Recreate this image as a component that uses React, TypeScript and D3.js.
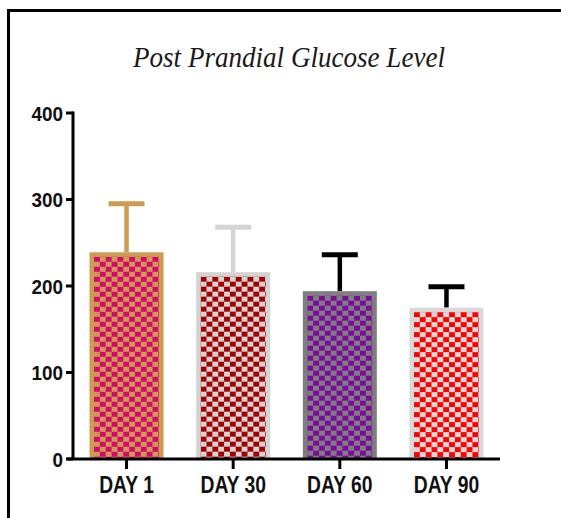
import React from 'react';
import * as d3 from 'd3';

// values
const days = ['DAY 1', 'DAY 30', 'DAY 60', 'DAY 90'];
const means = [239, 216, 194, 175];
const sds = [56, 52, 42, 24];
const yTicks = [0, 100, 200, 300, 400];

const frameColors = ['#CE9B52', '#D4D4D4', '#7F7F7F', '#D9D9D9'];
const checkColors = ['#D5086E', '#A30000', '#7D0A9E', '#FF0000'];
const errColors = ['#CE9B52', '#D4D4D4', '#000000', '#000000'];

const W = 561;
const H = 518;
const sansFont = '"Liberation Sans", Arial, sans-serif';

export default function App() {
  const x = d3.scaleBand<string>()
    .domain(days)
    .range([73, 500])
    .paddingInner(0.306)
    .paddingOuter(0.155);
  const y = d3.scaleLinear().domain([0, 400]).range([459, 113]);

  const bw = x.bandwidth();
  const inset = 4.5;
  const cellW = 5.85;
  const cellH = 5;

  return (
    <svg width={W} height={H} style={{ position: 'absolute', left: 0, top: 0 }}>
      <rect width={W} height={H} fill="#fff" />
      <defs>
        {days.map((d, i) => {
          const bx = x(d)! + inset;
          const by = y(means[i]) + inset;
          return (
            <pattern key={d} id={'chk' + i} patternUnits="userSpaceOnUse"
              width={cellW * 2} height={cellH * 2}
              patternTransform={`translate(${bx},${by})`}>
              <rect width={cellW * 2} height={cellH * 2} fill={frameColors[i]} />
              <rect x={0} y={0} width={cellW} height={cellH} fill={checkColors[i]} />
              <rect x={cellW} y={cellH} width={cellW} height={cellH} fill={checkColors[i]} />
            </pattern>
          );
        })}
      </defs>

      {/* page frame */}
      <path d={`M8.5,${H} V10.5 H${W}`} fill="none" stroke="#000" strokeWidth={3} />

      <text x={289} y={67} textAnchor="middle" fontFamily='"Liberation Serif", serif'
        fontStyle="italic" fontSize={29} fill="#1a1a1a" textLength={312}
        lengthAdjust="spacingAndGlyphs">Post Prandial Glucose Level</text>

      {/* error bars (upper only) */}
      {days.map((d, i) => {
        const cx = x(d)! + bw / 2;
        const top = y(means[i] + sds[i]);
        return (
          <g key={'e' + d} stroke={errColors[i]}>
            <line x1={cx} x2={cx} y1={y(means[i])} y2={top} strokeWidth={4.5} />
            <line x1={cx - 18} x2={cx + 18} y1={top} y2={top} strokeWidth={5} />
          </g>
        );
      })}

      {/* bars */}
      {days.map((d, i) => {
        const bx = x(d)!;
        const by = y(means[i]);
        const bh = y(0) - by;
        return (
          <g key={'b' + d}>
            <rect x={bx} y={by} width={bw} height={bh} fill={frameColors[i]} />
            <rect x={bx + inset} y={by + inset} width={bw - inset * 2} height={bh - inset}
              fill={`url(#chk${i})`} />
          </g>
        );
      })}

      {/* y axis */}
      <line x1={73} x2={73} y1={y(400) - 1.5} y2={y(0)} stroke="#000" strokeWidth={3} />
      {yTicks.map(t => (
        <g key={'y' + t}>
          <line x1={66} x2={73} y1={y(t)} y2={y(t)} stroke="#000" strokeWidth={3} />
          <g transform={`translate(63,${y(t)}) scale(0.9,1)`}>
            <text dy="0.36em" textAnchor="end" fontFamily={sansFont}
              fontWeight="bold" fontSize={21} fill="#111">{t}</text>
          </g>
        </g>
      ))}

      {/* x axis */}
      <line x1={67} x2={500} y1={y(0)} y2={y(0)} stroke="#000" strokeWidth={3} />
      {days.map(d => {
        const cx = x(d)! + bw / 2;
        return (
          <g key={'x' + d}>
            <line x1={cx} x2={cx} y1={y(0)} y2={y(0) + 10} stroke="#000" strokeWidth={3} />
            <g transform={`translate(${cx},493) scale(0.84,1)`}>
              <text textAnchor="middle" fontFamily={sansFont}
                fontWeight="bold" fontSize={23} fill="#111">{d}</text>
            </g>
          </g>
        );
      })}
    </svg>
  );
}
